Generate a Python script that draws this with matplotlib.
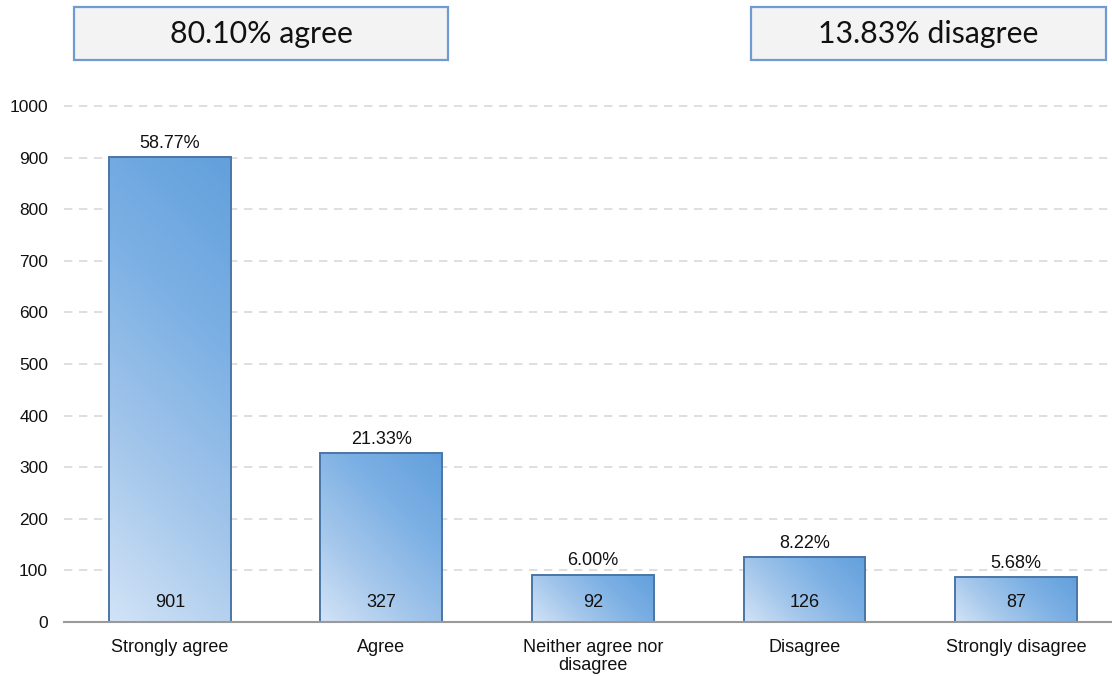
import matplotlib
matplotlib.use("Agg")
import matplotlib.pyplot as plt
import numpy as np
from matplotlib.colors import LinearSegmentedColormap
from matplotlib.patches import Rectangle

categories = ["Strongly agree", "Agree", "Neither agree nor\ndisagree", "Disagree", "Strongly disagree"]
counts = [901, 327, 92, 126, 87]
percents = ["58.77%", "21.33%", "6.00%", "8.22%", "5.68%"]
yticks = [0, 100, 200, 300, 400, 500, 600, 700, 800, 900, 1000]
summary_left = "80.10% agree"
summary_right = "13.83% disagree"

W, H = 1112, 676
fig = plt.figure(figsize=(W / 100, H / 100), dpi=100)
plt.rcParams['font.family'] = ['Liberation Sans', 'DejaVu Sans']

ax_left, ax_right = 64, 1112
ax_bottom, ax_top = 622, 106
ax = fig.add_axes([ax_left / W, 1 - ax_bottom / H, (ax_right - ax_left) / W, (ax_bottom - ax_top) / H])
XMAX = 4.453
ax.set_xlim(-0.5, XMAX)
ax.set_ylim(0, 1000)

for s in ["top", "right", "left"]:
    ax.spines[s].set_visible(False)
ax.spines["bottom"].set_color("#9a9a9a")
ax.spines["bottom"].set_linewidth(1.5)
ax.spines["bottom"].set_zorder(5)

ax.set_yticks(yticks)
ax.set_yticklabels([str(v) for v in yticks], fontsize=12.5, color="#111111")
ax.tick_params(axis="y", length=0, pad=11.5)
ax.tick_params(axis="x", length=0, pad=12)
for v in yticks[1:]:
    ax.axhline(v, color="#d9d9d9", linestyle=(0, (5, 4)), linewidth=1.2, zorder=0, clip_on=False)

x = np.arange(len(categories))
bars = ax.bar(x, counts, width=0.576, facecolor="none", edgecolor="#4a76a6", linewidth=1.4, zorder=3)
cmap = LinearSegmentedColormap.from_list("g", ["#d2e3f6", "#a3c6eb", "#7cb0e4", "#62a0dc"])
px_per_x = (ax_right - ax_left) / (XMAX + 0.5)
px_per_y = (ax_bottom - ax_top) / 1000.0
gx, gy = np.meshgrid(np.linspace(0, 1, 120), np.linspace(0, 1, 300))
for b in bars:
    x0, y0, w, h = b.get_x(), b.get_y(), b.get_width(), b.get_height()
    wp, hp = w * px_per_x, h * px_per_y
    grad = (gx * wp + gy * hp) / (wp + hp)
    im = ax.imshow(grad, extent=[x0, x0 + w, y0, y0 + h], origin="lower", cmap=cmap,
                   vmin=0, vmax=1, aspect="auto", zorder=2, interpolation="bilinear")
    im.set_clip_path(b)

for xi, c, p in zip(x, counts, percents):
    ax.annotate(p, (xi, c), xytext=(0, 10), textcoords="offset points", ha="center", va="center",
                fontsize=13, color="#111111")
    ax.annotate(str(c), (xi, 0), xytext=(0, 14), textcoords="offset points", ha="center", va="center",
                fontsize=13, color="#111111", zorder=6)

ax.set_xticks(x)
ax.set_xticklabels(categories, fontsize=13, color="#111111", linespacing=1.1, va="top")
ax.set_xlim(-0.5, XMAX)

def box(x0, x1, y0, y1, text):
    r = Rectangle((x0 / W, 1 - y1 / H), (x1 - x0) / W, (y1 - y0) / H, transform=fig.transFigure,
                  facecolor="#f3f3f3", edgecolor="#6f9bd2", linewidth=1.6)
    fig.add_artist(r)
    fig.text((x0 + x1) / 2 / W, 1 - (y0 + y1 + 2) / 2 / H, text, ha="center", va="center",
             fontsize=21.8, family=["Lato", "DejaVu Sans"], color="#111111")

box(74, 448, 7, 60, summary_left)
box(751, 1106, 7, 60, summary_right)

fig.savefig("out.png", dpi=100)
